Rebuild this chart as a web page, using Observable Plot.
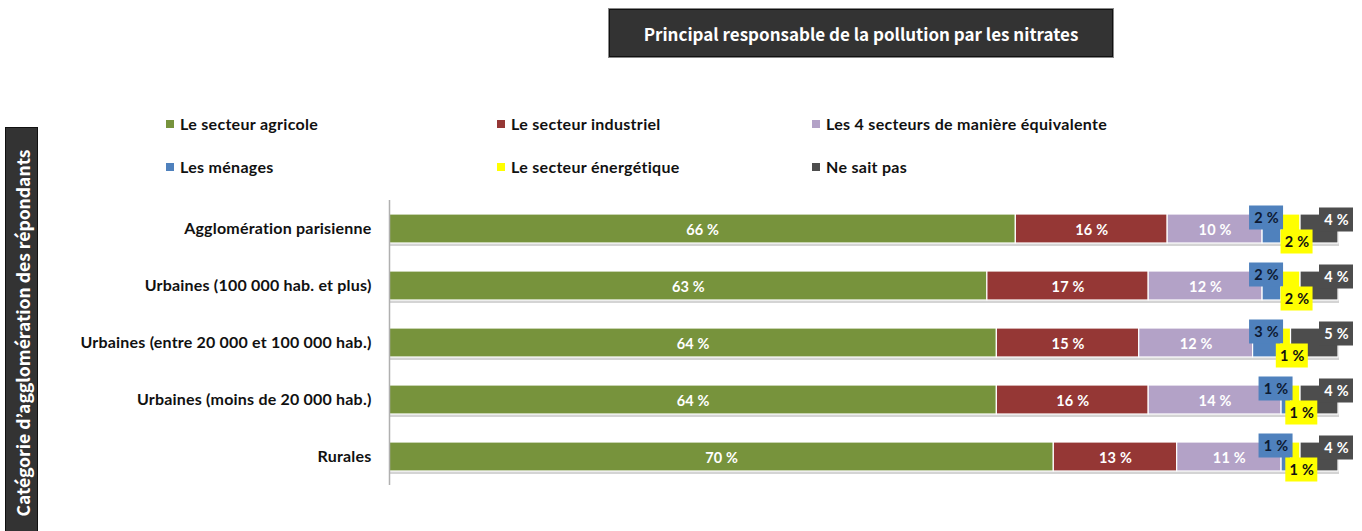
<!DOCTYPE html>
<html><head><meta charset="utf-8">
<script src="https://cdn.jsdelivr.net/npm/d3@7"></script>
<script src="https://cdn.jsdelivr.net/npm/@observablehq/plot@0.6"></script>
<style>
html,body{margin:0;padding:0;background:#fff;}
body{width:1362px;height:531px;position:relative;overflow:hidden;font-family:Lato,"Open Sans",sans-serif;}
#title{position:absolute;left:609px;top:9px;width:502px;height:46px;background:#333;border:1px solid #111;box-shadow:0 0 0 1px #888;color:#fff;font:bold 17px "Noto Sans CJK KR","Noto Sans",sans-serif;display:flex;align-items:center;justify-content:center;}
#ytitle{position:absolute;left:5px;top:127px;width:31px;height:410px;background:#333;border:1px solid #111;}
#ytitle span{position:absolute;left:50%;top:50%;transform:translate(-50%,-50%) rotate(-90deg);white-space:nowrap;color:#fff;font:bold 17.5px "Noto Sans CJK KR","Noto Sans",sans-serif;}
.leg{position:absolute;font:bold 16px Lato,sans-serif;color:#111;white-space:nowrap;line-height:18px;letter-spacing:0.3px;}
.leg i{display:inline-block;width:8px;height:8px;margin-right:6px;vertical-align:2px;}
#chart{position:absolute;left:0;top:0;}
</style>
</head><body>
<div id="chart"></div>
<div id="title">Principal responsable de la pollution par les nitrates</div>
<div id="ytitle"><span>Catégorie d’agglomération des répondants</span></div>
<div id="legend"></div>
<script>
const categories = ["Agglomération parisienne","Urbaines (100 000 hab. et plus)","Urbaines (entre 20 000 et 100 000 hab.)","Urbaines (moins de 20 000 hab.)","Rurales"];
const series = ["Le secteur agricole","Le secteur industriel","Les 4 secteurs de manière équivalente","Les ménages","Le secteur énergétique","Ne sait pas"];
const agricole = [66,63,64,64,70];
const industriel = [16,17,15,16,13];
const quatreSecteurs = [10,12,12,14,11];
const menages = [2,2,3,1,1];
const energetique = [2,2,1,1,1];
const neSaitPas = [4,4,5,4,4];
const colors = ["#77933C","#953735","#B3A2C7","#4F81BD","#FFFF00","#4D4D4D"];

const values = [agricole, industriel, quatreSecteurs, menages, energetique, neSaitPas];
const rows = [];
const totals = [];
categories.forEach((cat, ci) => {
  let acc = 0;
  series.forEach((s, si) => {
    const v = values[si][ci];
    rows.push({cat, series: s, si, value: v, start: acc, end: acc + v, label: v + " %"});
    acc += v;
  });
  totals.push({cat, total: acc});
});

// legend (HTML)
const legPos = [[166,115],[497,115],[812,115],[166,158],[497,158],[812,158]];
const legend = document.getElementById("legend");
series.forEach((s, i) => {
  const d = document.createElement("div");
  d.className = "leg";
  d.style.left = legPos[i][0] + "px";
  d.style.top = legPos[i][1] + "px";
  d.innerHTML = `<i style="background:${colors[i]}"></i>${s}`;
  legend.appendChild(d);
});

const big = rows.filter(d => d.si < 3);
const men = rows.filter(d => d.si === 3);
const ene = rows.filter(d => d.si === 4);
const nsp = rows.filter(d => d.si === 5);
const mid = d => (d.start + d.end) / 2;

const chart = Plot.plot({
  width: 1362,
  height: 531,
  marginLeft: 389,
  marginRight: 24,
  marginTop: 200,
  marginBottom: 46,
  x: {domain: [0, 100], axis: null},
  y: {domain: categories, paddingInner: 0.5, paddingOuter: 0.25, label: null, tickSize: 0, tickPadding: 18},
  color: {domain: series, range: colors},
  style: {fontFamily: "Lato, sans-serif", fontSize: "16px", fontWeight: "bold", color: "#111", background: "transparent", letterSpacing: "0.2px"},
  marks: [
    Plot.barX(totals, {x1: d => 0, x2: "total", y: "cat", fill: "#d4d4d4", dy: 3, dx: 1}),
    Plot.barX(rows, {x1: "start", x2: "end", y: "cat", fill: "series", stroke: "#fff", strokeWidth: 1.2}),
    Plot.ruleX([0], {stroke: "#b0b0b0", strokeWidth: 1.5}),
    Plot.text(big, {x: mid, y: "cat", text: "label", fill: "#fff", fontSize: 14.5, fontWeight: "bold", dy: 1}),
    // Les ménages label boxes
    Plot.barX(men, {x1: "end", x2: "end", y: "cat", fill: colors[3], insetLeft: -17, insetRight: -17, insetTop: 2.5, insetBottom: 2.5, dx: -15, dy: -11}),
    Plot.text(men, {x: "end", y: "cat", text: "label", fill: "#0d1a33", fontSize: 14.5, fontWeight: "bold", dx: -15, dy: -11}),
    // Le secteur énergétique label boxes
    Plot.barX(ene, {x1: mid, x2: mid, y: "cat", fill: colors[4], insetLeft: -16, insetRight: -16, insetTop: 2.5, insetBottom: 2.5, dx: 6, dy: 13}),
    Plot.text(ene, {x: mid, y: "cat", text: "label", fill: "#111", fontSize: 14.5, fontWeight: "bold", dx: 6, dy: 13}),
    // Ne sait pas label boxes
    Plot.barX(nsp, {x1: "end", x2: "end", y: "cat", fill: colors[5], insetLeft: -17, insetRight: -17, insetTop: 2.5, insetBottom: 2.5, dx: -2, dy: -9}),
    Plot.text(nsp, {x: "end", y: "cat", text: "label", fill: "#fff", fontSize: 14.5, fontWeight: "bold", dx: -2, dy: -9})
  ]
});
document.getElementById("chart").appendChild(chart);
</script>
</body></html>
